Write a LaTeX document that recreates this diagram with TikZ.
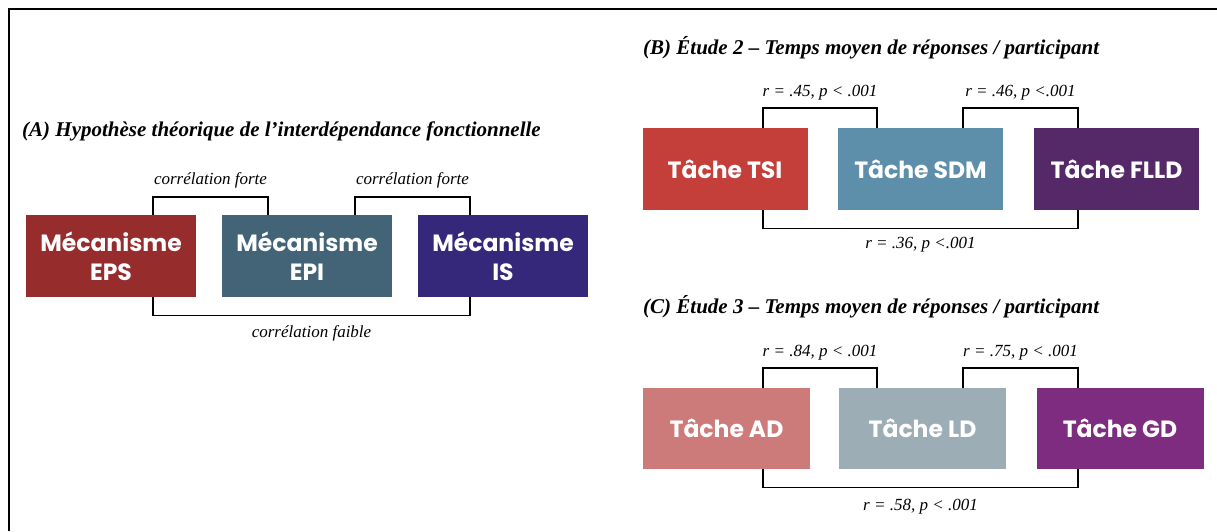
\documentclass[tikz,border=0pt]{standalone}
\usepackage{fontspec}
\setmainfont{Liberation Serif}
\setsansfont{Poppins}
\usepackage{tikz}

\definecolor{colEPS}{HTML}{972C2C}
\definecolor{colEPI}{HTML}{426476}
\definecolor{colIS}{HTML}{35287A}
\definecolor{colTSI}{HTML}{C43E3A}
\definecolor{colSDM}{HTML}{5E8FAA}
\definecolor{colFLLD}{HTML}{552868}
\definecolor{colAD}{HTML}{CD7B7A}
\definecolor{colLD}{HTML}{9DADB6}
\definecolor{colGD}{HTML}{7D2C80}

\tikzset{
  mbox/.style={minimum width=170pt, minimum height=82pt, inner sep=0pt, text=white,
    align=center, font=\sffamily\bfseries\fontsize{23.5}{29}\selectfont},
  ttl/.style={anchor=west, inner sep=0pt, font=\bfseries\itshape\fontsize{21}{24}\selectfont},
  lbl/.style={inner sep=0pt, font=\itshape\fontsize{17}{20}\selectfont},
  brk/.style={line width=1.4pt, black}
}

\begin{document}
\begin{tikzpicture}[x=1pt, y=-1pt]
  \useasboundingbox (0,0) rectangle (1217,531);
  \draw[line width=1.8pt] (9,531) -- (9,9) -- (1217,9);

  % (A)
  \node[ttl] (ttlA) at (22,131) {(A) Hypothèse théorique de l’interdépendance fonctionnelle};
  \foreach \n/\x/\c/\t in {eps/111/colEPS/EPS, epi/307/colEPI/EPI, is/503/colIS/IS}
    \node[mbox, fill=\c] (\n) at (\x,256) {Mécanisme\\\t};
  \draw[brk] ([xshift=42pt]eps.north) -- ++(0,-18) -| ([xshift=-39pt]epi.north)
    node[lbl, pos=0.25, yshift=16pt] (lA1) {corrélation forte};
  \draw[brk] ([xshift=48pt]epi.north) -- ++(0,-18) -| ([xshift=-33pt]is.north)
    node[lbl, pos=0.25, yshift=16pt] (lA2) {corrélation forte};
  \draw[brk] ([xshift=42pt]eps.south) -- ++(0,18) -| ([xshift=-33pt]is.south)
    node[lbl, pos=0.25, yshift=-18pt] (lA3) {corrélation faible};

  % (B)
  \node[ttl] (ttlB) at (643,48) {(B) Étude 2 – Temps moyen de réponses / participant};
  \foreach \n/\x/\c/\t in {tsi/725/colTSI/TSI, sdm/920.5/colSDM/SDM, flld/1116.5/colFLLD/FLLD}
    \node[mbox, minimum width=165pt, fill=\c] (\n) at (\x,169) {Tâche \t};
  \draw[brk] ([xshift=38pt]tsi.north) -- ++(0,-20) -| ([xshift=-43.5pt]sdm.north)
    node[lbl, pos=0.25, yshift=15pt] (lB1) {r = .45, p < .001};
  \draw[brk] ([xshift=42.5pt]sdm.north) -- ++(0,-20) -| ([xshift=-38.5pt]flld.north)
    node[lbl, pos=0.25, yshift=15pt] (lB2) {r = .46, p <.001};
  \draw[brk] ([xshift=38pt]tsi.south) -- ++(0,18) -| ([xshift=-38.5pt]flld.south)
    node[lbl, pos=0.25, yshift=-16pt] (lB3) {r = .36, p <.001};

  % (C)
  \node[ttl] (ttlC) at (643,307) {(C) Étude 3 – Temps moyen de réponses / participant};
  \foreach \n/\x/\c/\t in {ad/726.5/colAD/AD, ld/922.5/colLD/LD, gd/1120/colGD/GD}
    \node[mbox, minimum width=167pt, minimum height=81pt, fill=\c] (\n) at (\x,428.5) {Tâche \t};
  \draw[brk] ([xshift=36.5pt]ad.north) -- ++(0,-20) -| ([xshift=-45.5pt]ld.north)
    node[lbl, pos=0.25, yshift=15pt] (lC1) {r = .84, p < .001};
  \draw[brk] ([xshift=40.5pt]ld.north) -- ++(0,-20) -| ([xshift=-42pt]gd.north)
    node[lbl, pos=0.25, yshift=15pt] (lC2) {r = .75, p < .001};
  \draw[brk] ([xshift=36.5pt]ad.south) -- ++(0,18) -| ([xshift=-42pt]gd.south)
    node[lbl, pos=0.25, yshift=-19pt] (lC3) {r = .58, p < .001};
\end{tikzpicture}
\end{document}
